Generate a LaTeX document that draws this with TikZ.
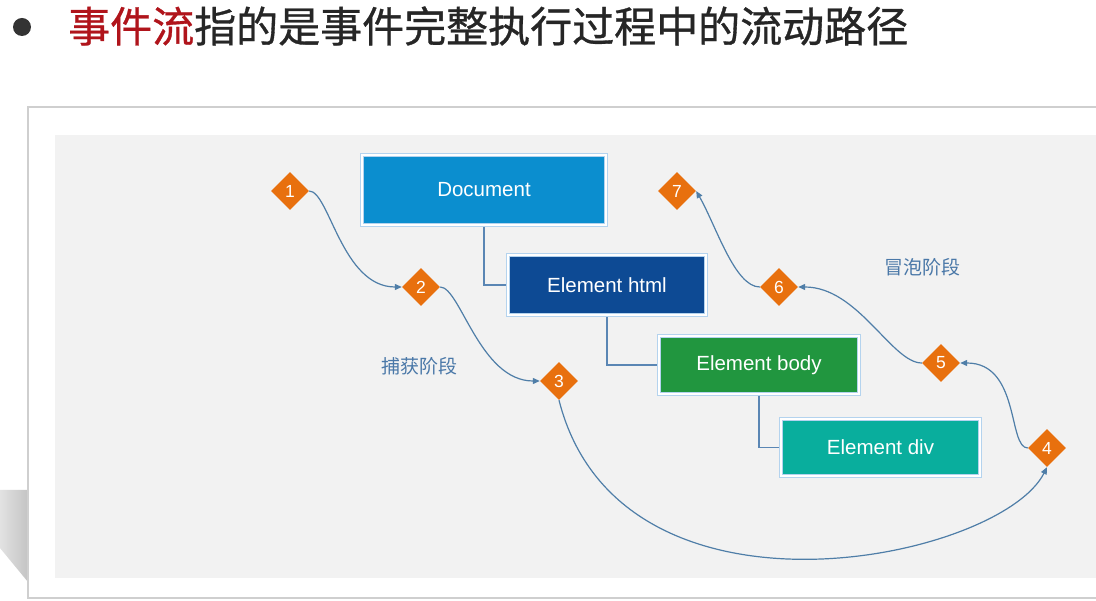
\documentclass[tikz,border=0pt]{standalone}
\usepackage{fontspec}
\setmainfont{Liberation Sans}
\newfontfamily\cjk{Noto Sans CJK SC}
\newfontfamily\cjkhead[FakeBold=0.8]{Noto Sans CJK SC}
\usepackage{xcolor}
\usetikzlibrary{shapes.geometric,arrows.meta}
\definecolor{titleInk}{HTML}{262626}
\definecolor{titleRed}{HTML}{B0141B}
\definecolor{bulletGray}{HTML}{333333}
\definecolor{frameLine}{HTML}{CFCFCF}
\definecolor{panelBg}{HTML}{F2F2F2}
\definecolor{shadowDark}{HTML}{C4C4C4}
\definecolor{shadowLight}{HTML}{E2E2E2}
\definecolor{boxEdge}{HTML}{B4D3EE}
\definecolor{docBlue}{HTML}{0B8ECF}
\definecolor{htmlBlue}{HTML}{0D4A94}
\definecolor{bodyGreen}{HTML}{21963F}
\definecolor{divTeal}{HTML}{09AE9D}
\definecolor{tagOrange}{HTML}{E8700E}
\definecolor{treeBlue}{HTML}{5A86B4}
\definecolor{flowBlue}{HTML}{4F7EA8}
\definecolor{phaseBlue}{HTML}{4A78A8}
\tikzset{
  docBox/.style={rectangle, draw=boxEdge, double=white, line width=0.8pt,
    double distance=2.5pt, outer sep=2pt, inner sep=0pt, text=white,
    font=\fontsize{20.5}{24}\selectfont},
  numTag/.style={diamond, fill=tagOrange, text=white, inner sep=0pt,
    minimum width=38pt, minimum height=38pt, font=\fontsize{17.5}{20}\selectfont},
  treeLine/.style={draw=treeBlue, line width=1.3pt},
  flowArrow/.style={draw=flowBlue, line width=1.2pt, -{Triangle[length=7pt,width=6pt]}},
  phaseLbl/.style={text=phaseBlue, font=\cjk\fontsize{19}{22}\selectfont},
}

\begin{document}
\begin{tikzpicture}[x=1pt,y=1pt]
  \useasboundingbox (0,0) rectangle (1096,-601);
  \fill[white] (0,0) rectangle (1096,-601);

  % heading
  \node[circle, fill=bulletGray, minimum size=18pt, inner sep=0pt] (bullet) at (22,-27) {};
  \node[anchor=west, inner sep=0pt, text=titleInk, font=\cjkhead\fontsize{42}{46}\selectfont]
    (title) at (68,-26) {\textcolor{titleRed}{事件流}指的是事件完整执行过程中的流动路径};

  % slide frame and panel
  \shade[left color=shadowLight, right color=shadowDark]
    (0,-490) -- (28,-490) -- (28,-582) -- (0,-548) -- cycle;
  \draw[frameLine, fill=white, line width=2pt] (28,-107) rectangle (1110,-598);
  \fill[panelBg] (55,-135) rectangle (1110,-578);

  % DOM tree
  \node[docBox, fill=docBlue,   minimum width=244pt, minimum height=70pt] (doc)  at (484,-190)   {Document};
  \node[docBox, fill=htmlBlue,  minimum width=198pt, minimum height=60pt] (html) at (607,-285)   {Element html};
  \node[docBox, fill=bodyGreen, minimum width=200pt, minimum height=58pt] (body) at (759,-365)   {Element body};
  \node[docBox, fill=divTeal,   minimum width=199pt, minimum height=57pt] (div)  at (880.5,-447.5) {Element div};

  \draw[treeLine] (doc.south)  |- (html.west);
  \draw[treeLine] (html.south) |- (body.west);
  \draw[treeLine] (body.south) |- (div.west);

  % event path
  \node[numTag] (t1) at (290,-191)  {1};
  \node[numTag] (t2) at (421,-287)  {2};
  \node[numTag] (t3) at (559,-381)  {3};
  \node[numTag] (t4) at (1047,-448) {4};
  \node[numTag] (t5) at (941,-363)  {5};
  \node[numTag] (t6) at (779,-287)  {6};
  \node[numTag] (t7) at (677,-191)  {7};

  \draw[flowArrow] (t1.east) .. controls +(20,0) and +(-60,0) .. (t2.west);
  \draw[flowArrow] (t2.east) .. controls +(20,0) and +(-60,0) .. (t3.west);
  \draw[flowArrow] (t3.south) .. controls +(61,-240) and +(-47,-93) .. (t4.south);
  \draw[flowArrow] (t4.west) .. controls +(-20,0) and +(60,0) .. (t5.east);
  \draw[flowArrow] (t5.west) .. controls +(-30,0) and +(60,0) .. (t6.east);
  \draw[flowArrow] (t6.west) .. controls +(-25,0) and +(20,-35) .. (t7.east);

  \node[phaseLbl] (capture) at (419,-366) {捕获阶段};
  \node[phaseLbl] (bubble)  at (922,-267) {冒泡阶段};
\end{tikzpicture}
\end{document}
